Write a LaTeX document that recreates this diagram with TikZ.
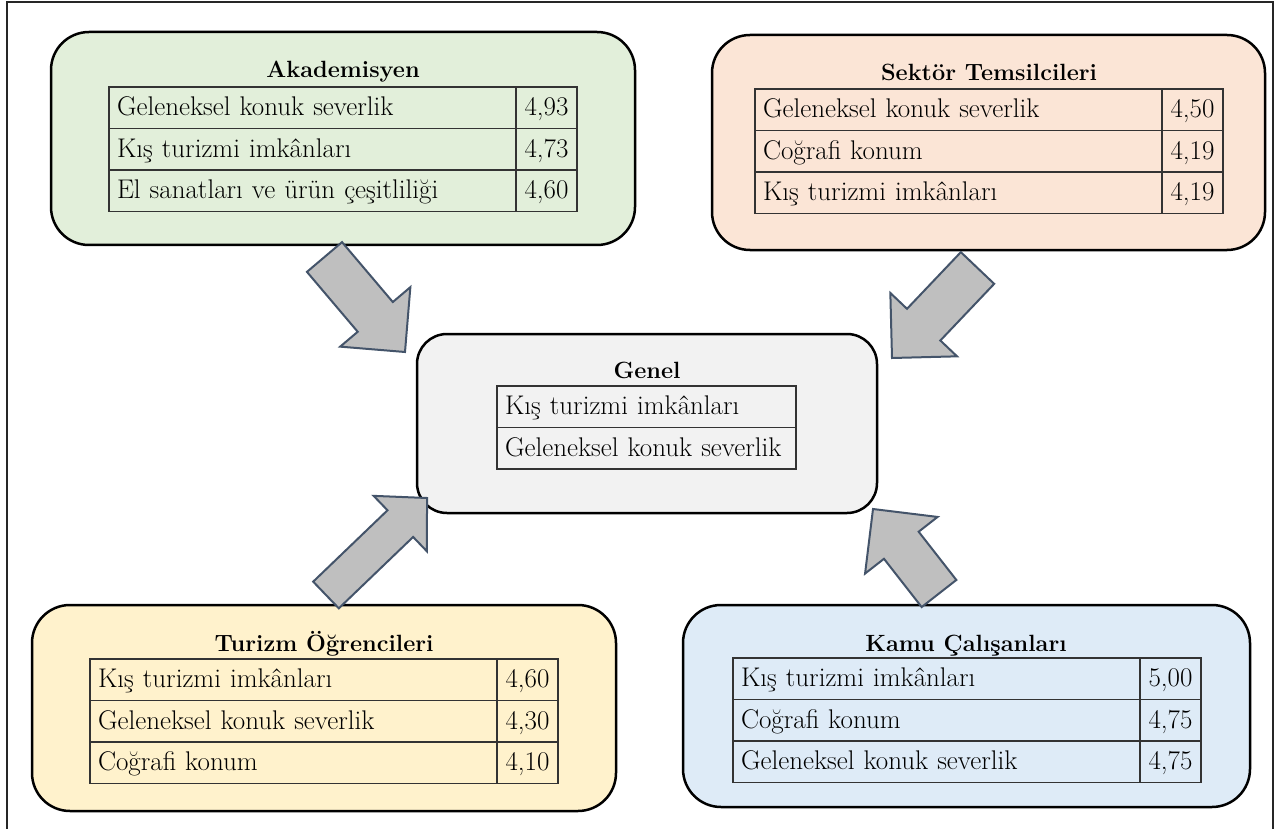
\documentclass[tikz,border=0pt]{standalone}
\usepackage{tikz}
\usetikzlibrary{positioning, calc}

\definecolor{akafill}{HTML}{E2EFDA}
\definecolor{sekfill}{HTML}{FBE5D6}
\definecolor{genfill}{HTML}{F2F2F2}
\definecolor{turfill}{HTML}{FFF2CC}
\definecolor{kamfill}{HTML}{DEEBF7}
\definecolor{arrfill}{HTML}{BFBFBF}
\definecolor{arrline}{HTML}{44546A}

% block arrow: tail, tip, half shaft, half head, head length
\newcommand{\blockarr}[5]{%
  \coordinate (#1b) at ($(#2)!#5!(#1)$);
  \draw[blk] ($(#1)!#3!90:(#2)$) -- ($(#1b)!#3!90:(#2)$) -- ($(#1b)!#4!90:(#2)$) -- (#2)
    -- ($(#1b)!#4!-90:(#2)$) -- ($(#1b)!#3!-90:(#2)$) -- ($(#1)!#3!-90:(#2)$) -- cycle;}

\begin{document}
\begin{tikzpicture}[x=1pt, y=-1pt, font=\fontsize{27}{31}\selectfont,
  grp/.style={draw, line width=2.5pt, rounded corners=38pt, anchor=north west, inner sep=0pt, outer sep=0pt},
  ttl/.style={font=\fontsize{23.5}{28}\selectfont\bfseries, anchor=base, inner sep=0pt},
  lbl/.style={draw=black!80, line width=1.2pt, text width=391pt, align=left, inner xsep=8pt, inner ysep=0pt,
    minimum height=41.5pt, text height=21pt, text depth=5pt, outer sep=0pt},
  val/.style={draw=black!80, line width=1.2pt, minimum width=61pt, inner sep=0pt,
    minimum height=41.5pt, text height=21pt, text depth=5pt, outer sep=0pt},
  blk/.style={fill=arrfill, draw=arrline, line width=2pt, line join=miter}]
    \useasboundingbox (0,0) rectangle (1277,829);

    % frame
    \draw[line width=2.5pt, black!85] (7,829) -- (7,2) -- (1273,2) -- (1273,829);

    % Akademisyen
    \node[grp, fill=akafill, minimum width=584pt, minimum height=213pt] (aka) at (51,32) {};
    \node[ttl] (akaT) at (343,78) {Akademisyen};
    \node[lbl, anchor=north west] (aka1) at (109,87) {Geleneksel konuk severlik};
    \node[lbl, below=0pt of aka1] (aka2) {Kış turizmi imkânları};
    \node[lbl, below=0pt of aka2] (aka3) {El sanatları ve ürün çeşitliliği};
    \node[val, right=0pt of aka1] (aka1v) {4,93};
    \node[val, right=0pt of aka2] (aka2v) {4,73};
    \node[val, right=0pt of aka3] (aka3v) {4,60};

    % Sektor Temsilcileri
    \node[grp, fill=sekfill, minimum width=553pt, minimum height=215pt] (sek) at (712,35) {};
    \node[ttl] (sekT) at (989,81) {Sektör Temsilcileri};
    \node[lbl, anchor=north west] (sek1) at (755,89) {Geleneksel konuk severlik};
    \node[lbl, below=0pt of sek1] (sek2) {Coğrafi konum};
    \node[lbl, below=0pt of sek2] (sek3) {Kış turizmi imkânları};
    \node[val, right=0pt of sek1] (sek1v) {4,50};
    \node[val, right=0pt of sek2] (sek2v) {4,19};
    \node[val, right=0pt of sek3] (sek3v) {4,19};

    % Genel
    \node[grp, fill=genfill, rounded corners=30pt, minimum width=460pt, minimum height=179pt] (gen) at (417,334) {};
    \node[ttl] (genT) at (647,378) {Genel};
    \node[lbl, text width=283pt, anchor=north west] (gen1) at (497,386) {Kış turizmi imkânları};
    \node[lbl, text width=283pt, below=0pt of gen1] (gen2) {Geleneksel konuk severlik};

    % Turizm Ogrencileri
    \node[grp, fill=turfill, minimum width=584pt, minimum height=206pt] (tur) at (32,605) {};
    \node[ttl] (turT) at (324,651) {Turizm Öğrencileri};
    \node[lbl, anchor=north west] (tur1) at (90,659) {Kış turizmi imkânları};
    \node[lbl, below=0pt of tur1] (tur2) {Geleneksel konuk severlik};
    \node[lbl, below=0pt of tur2] (tur3) {Coğrafi konum};
    \node[val, right=0pt of tur1] (tur1v) {4,60};
    \node[val, right=0pt of tur2] (tur2v) {4,30};
    \node[val, right=0pt of tur3] (tur3v) {4,10};

    % Kamu Calisanlari
    \node[grp, fill=kamfill, minimum width=567pt, minimum height=202pt] (kam) at (683,605) {};
    \node[ttl] (kamT) at (966,651) {Kamu Çalışanları};
    \node[lbl, anchor=north west] (kam1) at (733,658) {Kış turizmi imkânları};
    \node[lbl, below=0pt of kam1] (kam2) {Coğrafi konum};
    \node[lbl, below=0pt of kam2] (kam3) {Geleneksel konuk severlik};
    \node[val, right=0pt of kam1] (kam1v) {5,00};
    \node[val, right=0pt of kam2] (kam2v) {4,75};
    \node[val, right=0pt of kam3] (kam3v) {4,75};

    % arrows into Genel
    \coordinate (akaA) at (324.5,257);  \coordinate (akaP) at (405,352);
    \coordinate (sekA) at (977.5,268);  \coordinate (sekP) at (892,358);
    \coordinate (turA) at (326,595);    \coordinate (turP) at (427,498);
    \coordinate (kamA) at (939,593.5);  \coordinate (kamP) at (873,509);
    \blockarr{akaA}{akaP}{23pt}{46pt}{46pt}
    \blockarr{sekA}{sekP}{23pt}{46pt}{46pt}
    \blockarr{turA}{turP}{18.5pt}{38.5pt}{37pt}
    \blockarr{kamA}{kamP}{22pt}{46pt}{46pt}
\end{tikzpicture}
\end{document}
